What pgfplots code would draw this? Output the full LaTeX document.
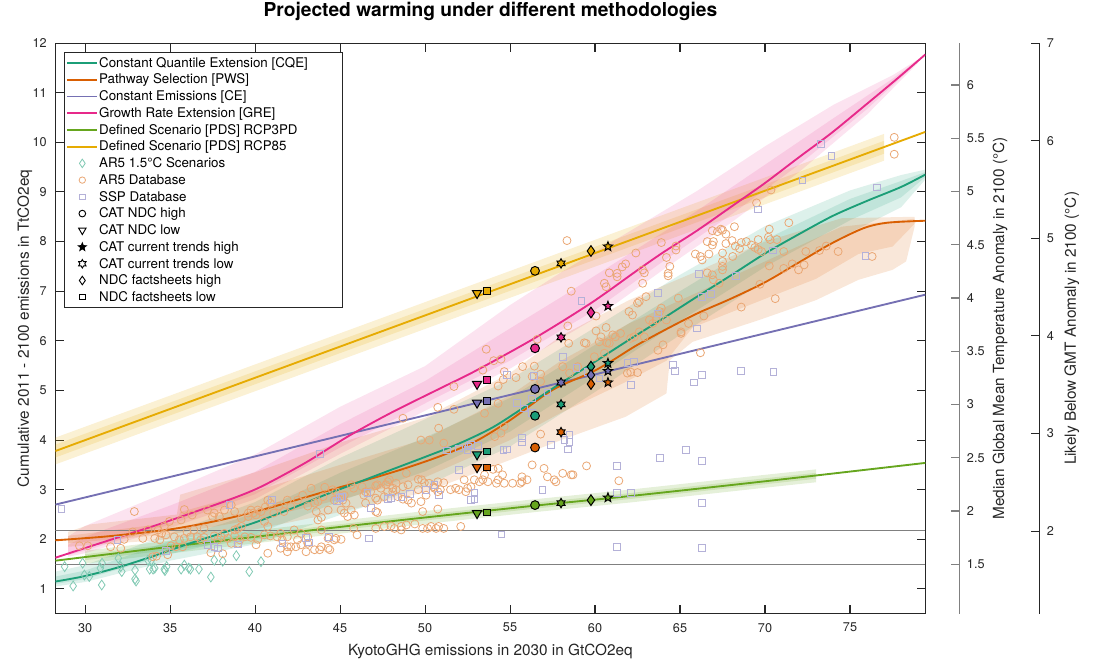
\documentclass[border=0pt]{standalone}
\usepackage{fontspec}
\setmainfont{TeX Gyre Heros}
\usepackage{pgfplots}
\pgfplotsset{compat=1.18}
\usetikzlibrary{plotmarks}

\definecolor{cqe}{HTML}{1B9E77}
\definecolor{pws}{HTML}{D95F02}
\definecolor{ce}{HTML}{7570B3}
\definecolor{gre}{HTML}{E7298A}
\definecolor{rcpl}{HTML}{66A61E}
\definecolor{rcph}{HTML}{E6AB02}
\definecolor{arfive}{HTML}{EAA774}
\definecolor{ssp}{HTML}{B4B1D8}
\definecolor{arlow}{HTML}{82CAB4}
\definecolor{axc}{HTML}{262626}
\definecolor{rax}{HTML}{808080}

\pgfdeclareplotmark{pent}{%
  \pgfpathmoveto{\pgfpointpolar{90}{1*\pgfplotmarksize}}%
  \pgfpathlineto{\pgfpointpolar{126}{0.42*\pgfplotmarksize}}%
  \pgfpathlineto{\pgfpointpolar{162}{1*\pgfplotmarksize}}%
  \pgfpathlineto{\pgfpointpolar{198}{0.42*\pgfplotmarksize}}%
  \pgfpathlineto{\pgfpointpolar{234}{1*\pgfplotmarksize}}%
  \pgfpathlineto{\pgfpointpolar{270}{0.42*\pgfplotmarksize}}%
  \pgfpathlineto{\pgfpointpolar{306}{1*\pgfplotmarksize}}%
  \pgfpathlineto{\pgfpointpolar{342}{0.42*\pgfplotmarksize}}%
  \pgfpathlineto{\pgfpointpolar{18}{1*\pgfplotmarksize}}%
  \pgfpathlineto{\pgfpointpolar{54}{0.42*\pgfplotmarksize}}%
  \pgfpathclose
  \pgfusepathqfillstroke}
\pgfdeclareplotmark{hexa}{%
  \pgfpathmoveto{\pgfpointpolar{90}{1*\pgfplotmarksize}}%
  \pgfpathlineto{\pgfpointpolar{120}{0.577*\pgfplotmarksize}}%
  \pgfpathlineto{\pgfpointpolar{150}{1*\pgfplotmarksize}}%
  \pgfpathlineto{\pgfpointpolar{180}{0.577*\pgfplotmarksize}}%
  \pgfpathlineto{\pgfpointpolar{210}{1*\pgfplotmarksize}}%
  \pgfpathlineto{\pgfpointpolar{240}{0.577*\pgfplotmarksize}}%
  \pgfpathlineto{\pgfpointpolar{270}{1*\pgfplotmarksize}}%
  \pgfpathlineto{\pgfpointpolar{300}{0.577*\pgfplotmarksize}}%
  \pgfpathlineto{\pgfpointpolar{330}{1*\pgfplotmarksize}}%
  \pgfpathlineto{\pgfpointpolar{0}{0.577*\pgfplotmarksize}}%
  \pgfpathlineto{\pgfpointpolar{30}{1*\pgfplotmarksize}}%
  \pgfpathlineto{\pgfpointpolar{60}{0.577*\pgfplotmarksize}}%
  \pgfpathclose
  \pgfusepathqfillstroke}
\pgfdeclareplotmark{vtri}{%
  \pgfpathmoveto{\pgfpointpolar{270}{1*\pgfplotmarksize}}%
  \pgfpathlineto{\pgfpointpolar{30}{1*\pgfplotmarksize}}%
  \pgfpathlineto{\pgfpointpolar{150}{1*\pgfplotmarksize}}%
  \pgfpathclose
  \pgfusepathqfillstroke}
\pgfdeclareplotmark{ndiam}{%
  \pgfpathmoveto{\pgfpoint{0pt}{1*\pgfplotmarksize}}%
  \pgfpathlineto{\pgfpoint{0.7*\pgfplotmarksize}{0pt}}%
  \pgfpathlineto{\pgfpoint{0pt}{-1*\pgfplotmarksize}}%
  \pgfpathlineto{\pgfpoint{-0.7*\pgfplotmarksize}{0pt}}%
  \pgfpathclose
  \pgfusepathqfillstroke}
\pgfdeclareplotmark{ndiamo}{%
  \pgfpathmoveto{\pgfpoint{0pt}{1*\pgfplotmarksize}}%
  \pgfpathlineto{\pgfpoint{0.68*\pgfplotmarksize}{0pt}}%
  \pgfpathlineto{\pgfpoint{0pt}{-1*\pgfplotmarksize}}%
  \pgfpathlineto{\pgfpoint{-0.68*\pgfplotmarksize}{0pt}}%
  \pgfpathclose
  \pgfusepathqstroke}

\pgfplotsset{
  ndc/.style={only marks, forget plot, mark options={draw=black, fill=#1, line width=0.75pt, solid}},
  lgm/.style={only marks, mark options={draw=black, fill=white, line width=0.7pt, solid}},
}

\begin{document}
\begin{tikzpicture}
\begin{axis}[
  scale only axis, width=652.35pt, height=428pt,
  at={(0,0)}, anchor=south west,
  xmin=28.26, xmax=79.43, ymin=0.5, ymax=12,
  xtick={30,35,40,45,50,55,60,65,70,75}, ytick={1,2,3,4,5,6,7,8,9,10,11,12},
  tick align=inside, major tick length=6.5pt,
  axis line style={axc, line width=0.8pt},
  tick style={axc, line width=0.8pt},
  /pgf/number format/assume math mode=true,
  tick label style={font=\fontsize{9.5}{11}\selectfont, text=axc},
  xticklabel style={yshift=-3.5pt},
  yticklabel style={xshift=-3pt},
  label style={font=\fontsize{11.5}{13}\selectfont, text=axc},
  xlabel={KyotoGHG emissions in 2030 in GtCO2eq},
  ylabel={Cumulative 2011 - 2100 emissions in TtCO2eq},
  xlabel style={at={(axis description cs:0.5,-0.0724)}, anchor=base},
  ylabel style={at={(axis description cs:-0.0351,0.5)}, anchor=center},
  title={Projected warming under different methodologies},
  title style={font=\bfseries\fontsize{14.4}{16}\selectfont, at={(axis description cs:0.5,1.0333)}, anchor=base, yshift=0pt},
  legend cell align=left,
  legend style={at={(axis description cs:0.0098,0.984)}, anchor=north west, draw=axc, line width=0.6pt, fill=white,
    font=\fontsize{10}{12}\selectfont, inner xsep=1.5pt, inner ysep=1.5pt, row sep=0pt,
    nodes={inner sep=0.7pt, text height=8.75pt, text depth=2.4pt}},
  legend image code/.code={\draw[mark repeat=2,mark phase=2,#1] plot coordinates {(0pt,0pt)(11.25pt,0pt)(22.5pt,0pt)};},
]

% ---- bands ----
% RCP85
\addplot[draw=none, fill=rcph, fill opacity=0.17, forget plot] coordinates {(28.26,4.05)(77,10.17)(77,9.63)(28.26,3.51)} -- cycle;
\addplot[draw=none, fill=rcph, fill opacity=0.17, forget plot] coordinates {(28.26,3.91)(77,10.03)(77,9.77)(28.26,3.65)} -- cycle;
% RCP3PD
\addplot[draw=none, fill=rcpl, fill opacity=0.17, forget plot] coordinates {(30,1.77)(40,2.18)(50,2.57)(56.5,2.81)(62,3.0)(70,3.3)(73,3.41)(73,3.15)(70,3.04)(62,2.74)(56.5,2.55)(50,2.31)(40,1.92)(30,1.51)} -- cycle;
\addplot[draw=none, fill=rcpl, fill opacity=0.17, forget plot] coordinates {(30,1.70)(40,2.11)(50,2.50)(56.5,2.74)(62,2.93)(70,3.23)(73,3.34)(73,3.22)(70,3.11)(62,2.81)(56.5,2.62)(50,2.38)(40,1.99)(30,1.58)} -- cycle;
% GRE
\addplot[draw=none, fill=gre, fill opacity=0.13, forget plot] coordinates {(29,2.06)(30,2.27)(35,2.98)(40,3.71)(45,4.67)(50,5.49)(55,6.72)(58,7.38)(62,8.2)(66,9.02)(70,9.92)(74,10.75)(77.5,11.35)(79,11.67)
  (79,11.6)(76,10.56)(72,9.4)(68,8.38)(64,7.43)(60,6.45)(55,5.44)(50,4.59)(45,3.72)(40,2.81)(35,2.23)(30,1.72)(29,1.65)} -- cycle;
\addplot[draw=none, fill=gre, fill opacity=0.13, forget plot] coordinates {(29,1.89)(30,2.05)(35,2.68)(40,3.36)(45,4.32)(50,5.19)(55,6.25)(58,6.88)(62,7.75)(66,8.62)(70,9.55)(74,10.48)(77.5,11.28)(79,11.66)
  (79,11.62)(76,10.67)(72,9.55)(68,8.54)(64,7.6)(60,6.62)(55,5.6)(50,4.74)(45,3.85)(40,2.91)(35,2.3)(30,1.77)(29,1.68)} -- cycle;
% CQE
\addplot[draw=none, fill=cqe, fill opacity=0.15, forget plot] coordinates {(28.26,1.35)(30,1.48)(35,2.12)(40,2.75)(45,3.64)(50,4.42)(55,5.22)(60,6.27)(65,7.33)(70,8.31)(75,9.03)(78,9.34)(79.43,9.45)
  (79.43,9.25)(78,8.69)(75,8.18)(70,7.21)(65,6.12)(60,4.97)(55,3.87)(50,3.07)(45,2.49)(40,1.9)(35,1.57)(30,1.14)(28.26,1.05)} -- cycle;
\addplot[draw=none, fill=cqe, fill opacity=0.15, forget plot] coordinates {(28.26,1.25)(30,1.37)(35,1.97)(40,2.53)(45,3.34)(50,4.05)(55,4.85)(60,5.92)(65,7.0)(70,8.04)(75,8.86)(78,9.22)(79.43,9.4)
  (79.43,9.3)(78,8.89)(75,8.43)(70,7.49)(65,6.4)(60,5.27)(55,4.17)(50,3.37)(45,2.77)(40,2.1)(35,1.7)(30,1.2)(28.26,1.1)} -- cycle;
% PWS
\addplot[draw=none, fill=pws, fill opacity=0.15, forget plot] coordinates {(29,2.15)(30.3,2.3)(35.4,2.5)(35.6,2.9)(40,3.35)(45,3.95)(50,4.45)(55,5.35)(58,6.1)(62,6.82)(66,7.4)(70,8.0)(74.5,8.47)(78.8,8.5)
  (78.8,8.3)(78.3,7.6)(77.5,7.43)(75.5,7.23)(73,6.82)(69.66,6.42)(65.74,5.98)(64.4,5.61)(64.2,4.94)(61.8,4.47)(58,4.0)(55,3.6)(50,2.95)(45,2.55)(40,2.2)(35,2.0)(29,1.85)} -- cycle;
\addplot[draw=none, fill=pws, fill opacity=0.15, forget plot] coordinates {(29,2.07)(35.4,2.35)(35.6,2.55)(40,2.97)(45,3.5)(50,4.02)(55,4.9)(58,5.6)(62,6.35)(66,6.97)(70,7.6)(74.5,8.3)(78.8,8.46)
  (78.8,8.36)(77.5,7.9)(75.5,7.75)(73,7.25)(69.66,6.8)(65.74,6.27)(64.2,5.6)(61.8,5.17)(58,4.55)(55,4.0)(50,3.25)(45,2.8)(40,2.4)(35,2.1)(29,1.92)} -- cycle;

% ---- reference lines ----
\addplot[color=rax, line width=0.75pt, forget plot] coordinates {(28.26,1.5)(79.43,1.5)};
\addplot[color=rax, line width=0.75pt, forget plot] coordinates {(28.26,2.168)(79.43,2.168)};

% ---- AR5 1.5C scenarios ----
\addplot[only marks, forget plot, mark=ndiamo, mark size=3.7pt, color=arlow, mark options={line width=0.6pt}] coordinates {
(28.8,1.45)(29.3,1.06)(29.86,1.52)(29.96,1.28)(30.25,1.25)(30.9,1.42)(30.98,1.08)(31.0,1.52)(31.96,1.62)(32.1,1.45)(32.16,1.35)
(32.94,1.38)(32.94,1.2)(33.0,1.16)(33.7,1.58)(33.8,1.4)(33.9,1.58)(34.0,1.4)(34.1,1.42)(34.66,1.4)(34.7,1.37)(34.8,1.45)
(35.65,1.4)(35.84,1.48)(36.1,1.42)(36.2,1.4)(36.7,1.4)(37.4,1.24)(37.6,1.58)(38.1,1.56)(38.9,1.67)(39.66,1.35)(40.35,1.55)};

% ---- AR5 database ----
\addplot[only marks, forget plot, mark=o, mark size=3pt, color=arfive, mark options={line width=0.6pt}] coordinates {
(29.67,1.87)(30.16,1.87)(31.5,1.85)(32.1,1.82)(32.3,2.0)(32.8,2.15)(32.9,2.56)(33.4,2.02)(33.7,2.19)(33.98,1.65)(34.1,2.02)(34.2,1.66)
(34.3,2.19)(34.4,1.99)(34.5,2.12)(34.66,2.26)(34.76,2.09)(34.86,1.69)(34.96,2.36)(35.06,1.87)(35.25,2.05)(35.35,1.85)(35.55,1.99)
(35.65,2.39)(35.74,1.85)(35.84,2.6)(35.84,2.02)(36.0,2.15)(36.2,2.05)(36.3,2.49)(36.4,2.19)(36.6,2.05)(36.8,1.99)(37.0,2.04)(37.0,2.22)
(37.2,2.59)(37.4,1.73)(37.5,2.46)(37.6,2.07)(37.6,2.53)(37.8,1.99)(37.9,2.46)(38.0,2.05)(38.1,1.71)(38.2,2.12)(38.2,2.59)(38.4,2.02)
(38.6,1.92)(38.6,2.69)(38.8,2.19)(38.8,2.56)(38.8,2.07)(39.0,1.92)(39.0,2.22)(39.1,1.99)(39.2,2.26)(39.2,2.42)(39.4,2.05)(39.6,2.46)
(39.6,2.53)(39.76,2.04)(39.76,2.59)(39.9,2.53)(40.06,1.89)(40.06,2.49)(40.16,2.0)(40.16,2.59)(40.35,2.56)(40.55,2.09)(40.55,2.36)
(40.6,2.65)(40.75,1.72)(40.75,2.26)(40.75,2.79)(40.9,2.07)(40.9,2.73)(41.1,2.53)(41.3,2.05)(41.4,2.67)(41.5,2.12)(41.5,1.82)(41.6,1.99)
(41.7,2.56)(41.9,1.85)(41.9,1.75)(41.9,2.05)(41.9,2.79)(42.1,2.66)(42.1,1.85)(42.3,2.19)(42.4,1.85)(42.5,1.99)(42.5,2.79)(42.7,2.12)
(42.7,1.89)(42.8,2.89)(43.0,1.75)(43.1,2.05)(43.1,1.92)(43.1,2.67)(43.3,3.03)(43.5,1.79)(43.5,2.73)(43.6,2.56)(43.7,2.39)(43.7,2.76)
(43.8,1.79)(43.9,2.19)(43.9,2.44)(43.9,1.85)(44.0,2.86)(44.1,3.05)(44.3,1.82)(44.3,2.59)(44.3,2.02)(44.4,1.79)(44.56,3.0)(44.66,1.99)
(44.66,2.79)(44.76,2.96)(44.76,2.02)(45.06,2.0)(45.06,2.86)(45.06,2.59)(45.16,2.79)(45.25,2.53)(45.25,2.89)(45.35,2.73)(45.45,2.46)
(45.65,3.1)(45.65,2.59)(45.8,3.03)(45.8,2.22)(45.84,2.49)(46.0,2.09)(46.3,3.06)(46.4,2.89)(46.5,2.96)(46.5,2.73)(46.8,2.96)
(47.1,2.22)(47.1,2.56)(47.1,2.83)(47.1,3.08)(47.2,3.1)(47.2,2.54)(47.2,2.79)(47.4,3.03)(47.6,2.26)(47.6,2.86)(47.7,3.1)
(47.8,3.16)(47.8,2.96)(47.9,3.2)(48.0,2.27)(48.1,2.96)(48.1,3.03)(48.2,2.22)(48.3,3.0)(48.3,3.13)(48.4,2.86)(48.6,2.19)
(48.6,2.26)(48.7,2.81)(48.7,3.06)(48.9,2.29)(48.9,3.33)(49.0,2.79)(49.0,3.1)(49.2,2.73)(49.4,2.31)(49.6,3.0)(49.6,3.21)(49.76,2.76)
(49.8,3.2)(49.86,2.22)(49.86,2.56)(49.96,3.14)(50.06,2.89)(50.15,2.22)(50.25,3.13)(50.35,2.26)(50.5,3.06)(50.55,3.03)(50.65,2.22)
(50.75,3.16)(50.75,2.96)(50.75,2.61)(50.8,2.26)(50.9,3.0)(51.1,3.14)(51.1,2.22)(51.5,3.0)(51.8,3.03)(52.0,3.0)(52.1,2.26)(52.3,3.2)
(52.4,2.96)(52.5,3.03)(52.7,3.06)(52.9,3.2)(53.2,3.16)(53.4,3.2)(53.5,3.3)(53.7,3.16)(54.0,3.41)(54.2,3.13)(54.3,3.2)(54.3,3.43)
(54.56,3.3)(54.66,3.13)(55.15,3.13)(55.6,3.13)(55.7,3.16)(55.7,3.26)(56.0,3.2)(56.3,3.5)(57.0,3.43)(57.2,3.26)(57.6,3.2)(57.7,3.16)
(58.1,3.33)(58.6,3.3)(58.7,3.3)(59.5,3.48)(61.4,3.18)
(48.7,4.44)(49.76,4.0)(50.25,4.0)(50.75,4.66)(50.8,4.24)(51.1,3.94)(51.7,4.62)(51.7,5.08)(53.4,5.41)(53.5,4.54)(53.6,5.83)(54.04,5.6)
(54.1,4.07)(54.3,4.74)(54.3,5.09)(54.47,5.63)(54.47,4.14)(54.6,5.22)(54.66,5.38)(54.66,4.27)(55.35,5.26)(55.74,5.48)(56.3,5.28)
(56.43,5.49)(56.6,6.03)(56.8,5.33)(56.8,5.18)(56.8,4.12)(58.1,5.48)(58.35,8.02)(58.4,6.3)(58.45,5.95)(58.5,5.35)(58.6,7.0)(58.98,5.48)
(59.37,5.96)(59.47,5.95)(59.96,5.68)(60.06,6.2)(60.06,6.5)(60.25,5.98)(60.35,6.08)(60.55,5.75)(60.55,7.16)(60.65,7.09)(60.65,6.27)
(60.7,5.96)(60.84,7.37)(60.84,5.95)(61.04,6.12)(61.2,6.08)(61.3,7.36)(61.3,7.29)(61.5,6.15)(61.6,7.49)(61.8,7.55)(61.9,5.35)
(62.0,6.59)(62.1,6.05)(62.1,5.37)(62.2,6.52)(62.3,6.08)(62.4,7.77)(62.5,5.36)(62.5,6.76)(62.6,6.79)(62.6,6.18)(62.8,7.43)(62.8,7.16)
(62.9,7.37)(62.9,6.08)(63.0,6.89)(63.2,6.42)(63.4,6.35)(63.6,6.42)(63.7,5.81)(63.8,6.59)(63.9,6.66)(63.9,7.98)(64.0,5.92)(64.2,7.68)
(64.2,6.42)(64.3,7.36)(64.3,7.31)(64.4,7.5)(64.76,7.91)(64.76,7.83)(64.9,6.86)(65.06,6.18)(65.06,6.15)(65.5,6.35)(65.9,7.75)(66.2,7.7)
(66.2,5.76)(66.3,7.63)(66.4,6.5)(66.6,8.0)(66.6,7.37)(66.7,7.75)(66.9,8.22)(66.9,7.33)(66.9,7.93)(66.96,8.0)(66.96,7.23)(67.2,8.2)
(67.3,7.16)(67.4,8.25)(67.5,8.23)(67.5,7.6)(67.5,7.5)(67.5,7.43)(67.5,7.77)(67.7,8.15)(67.7,7.96)(68.06,8.02)(68.1,7.7)(68.2,8.3)
(68.25,7.91)(68.5,7.86)(68.6,7.98)(68.6,6.68)(68.9,8.0)(69.2,7.93)(69.4,7.88)(69.5,8.78)(69.6,7.84)(69.6,8.04)(69.7,7.14)(69.8,7.8)
(70.2,8.09)(70.25,8.25)(70.25,7.51)(70.3,8.04)(70.35,9.04)(70.6,6.85)(70.7,8.04)(71.1,7.46)(71.1,7.8)(71.4,8.38)(71.6,7.55)
(71.97,7.43)(72.3,7.53)(72.4,7.8)(73.2,7.82)(73.6,7.91)(74.3,7.8)(76.3,7.7)(77.6,10.1)(77.6,9.76)};

% ---- SSP database ----
\addplot[only marks, forget plot, mark=square, mark size=2.5pt, color=ssp, mark options={line width=0.6pt}] coordinates {
(28.6,2.62)(31.9,1.99)(34.76,1.77)(37.2,1.89)(37.6,1.85)(37.8,1.82)(38.5,2.69)(39.0,1.9)(41.0,2.79)(41.6,1.92)(43.0,2.03)(43.15,1.94)
(43.8,3.72)(44.35,2.05)(44.8,2.78)(45.0,2.84)(45.1,2.86)(46.6,2.94)(46.7,2.02)(46.8,2.63)(47.8,2.82)(48.0,2.83)(48.6,2.86)(49.1,2.91)
(50.06,3.0)(50.55,3.1)(50.8,2.9)(51.3,3.79)(52.0,3.83)(52.0,3.4)(52.5,3.8)(52.55,3.87)(52.7,3.9)(52.7,2.79)(52.9,2.93)(52.9,2.81)
(53.1,3.88)(54.5,2.1)(54.6,3.8)(54.8,3.81)(54.8,5.31)(55.4,4.75)(55.7,4.04)(55.7,3.95)(55.8,4.64)(56.3,4.84)(56.3,4.55)(56.4,5.29)
(56.9,3.0)(57.2,4.96)(57.4,3.9)(58.1,5.68)(58.2,4.0)(58.4,3.81)(58.5,4.1)(58.5,3.97)(58.9,5.45)(59.2,6.8)(59.6,5.38)(60.25,5.24)
(61.3,3.48)(61.3,2.93)(61.3,1.85)(61.9,5.55)(62.1,5.11)(62.1,2.93)(62.3,5.58)(63.7,6.55)(63.7,6.97)(63.8,3.64)(64.6,5.51)(64.7,5.4)
(65.35,3.8)(65.8,5.16)(66.0,6.25)(66.1,7.35)(66.3,5.31)(66.3,3.58)(66.3,2.74)(66.3,1.83)(66.3,6.89)(66.8,6.94)(68.3,7.31)(68.6,5.39)
(69.6,8.65)(70.45,7.82)(70.5,5.38)(72.2,9.23)(73.3,9.97)(73.9,9.72)(75.9,7.71)(76.6,9.09)};

% ---- method lines ----
\addplot[color=rcph, line width=1.4pt, forget plot] coordinates {(28.26,3.78)(79.43,10.21)};
\addplot[color=rcpl, line width=1.4pt, forget plot, smooth] coordinates {(28.26,1.57)(35,1.85)(40,2.05)(45,2.25)(50,2.44)(56.5,2.68)(62,2.87)(70,3.17)(79.43,3.54)};
\addplot[color=ce, line width=1.4pt, forget plot] coordinates {(28.26,2.70)(79.43,6.93)};
\addplot[color=gre, line width=1.4pt, forget plot, smooth] coordinates {(28.26,1.63)(30.5,1.88)(32.5,2.1)(34.5,2.32)(36.43,2.55)(38.5,2.8)(40.35,3.06)(43,3.55)(45.5,4.08)(48,4.55)(50.94,5.05)(53,5.4)(56.43,6.05)(59.76,6.76)(62.4,7.4)(64,7.78)(66.04,8.23)(68,8.7)(69.96,9.17)(72,9.7)(73.88,10.18)(75.8,10.72)(77.8,11.29)(79.43,11.77)};
\addplot[color=pws, line width=1.4pt, forget plot, smooth] coordinates {(28.26,1.98)(31,2.05)(33,2.12)(35,2.2)(37,2.32)(39,2.47)(41,2.65)(43,2.85)(45,3.05)(47,3.24)(49,3.45)(51,3.69)(53,3.98)(55,4.4)(57,4.9)(58,5.1)(59.76,5.36)(61,5.6)(62.4,5.9)(64,6.2)(66,6.55)(68,6.85)(70,7.18)(71.9,7.56)(73.9,7.96)(75.8,8.27)(77.2,8.38)(79.43,8.42)};
\addplot[color=cqe, line width=1.4pt, forget plot, smooth] coordinates {(28.26,1.15)(30,1.26)(32,1.44)(34,1.66)(36,1.9)(38,2.12)(40,2.34)(42,2.6)(44,2.88)(46,3.14)(48,3.4)(50,3.66)(52,3.93)(54,4.26)(56,4.7)(58,5.15)(60,5.58)(62,6.02)(64,6.45)(66,6.89)(68,7.32)(70,7.76)(72,8.15)(74,8.52)(76,8.82)(78,9.1)(79.43,9.35)};

% ---- NDC / CAT markers ----
% RCP85
\addplot[ndc=rcph, mark=vtri, mark size=4pt] coordinates {(53.06,6.96)};
\addplot[ndc=rcph, mark=square*, mark size=2.5pt] coordinates {(53.65,7.01)};
\addplot[ndc=rcph, mark=*, mark size=3.3pt] coordinates {(56.47,7.41)};
\addplot[ndc=rcph, mark=hexa, mark size=3.5pt] coordinates {(58.0,7.56)};
\addplot[ndc=rcph, mark=ndiam, mark size=4pt] coordinates {(59.76,7.81)};
\addplot[ndc=rcph, mark=pent, mark size=3.6pt] coordinates {(60.76,7.90)};
% GRE
\addplot[ndc=gre, mark=vtri, mark size=4pt] coordinates {(53.06,5.13)};
\addplot[ndc=gre, mark=square*, mark size=2.5pt] coordinates {(53.65,5.21)};
\addplot[ndc=gre, mark=*, mark size=3.3pt] coordinates {(56.47,5.85)};
\addplot[ndc=gre, mark=hexa, mark size=3.5pt] coordinates {(58.0,6.07)};
\addplot[ndc=gre, mark=ndiam, mark size=4pt] coordinates {(59.76,6.57)};
\addplot[ndc=gre, mark=pent, mark size=3.6pt] coordinates {(60.76,6.70)};
% CQE
\addplot[ndc=cqe, mark=vtri, mark size=4pt] coordinates {(53.06,3.71)};
\addplot[ndc=cqe, mark=square*, mark size=2.5pt] coordinates {(53.65,3.77)};
\addplot[ndc=cqe, mark=*, mark size=3.3pt] coordinates {(56.47,4.49)};
\addplot[ndc=cqe, mark=hexa, mark size=3.5pt] coordinates {(58.0,4.72)};
\addplot[ndc=cqe, mark=ndiam, mark size=4pt] coordinates {(59.76,5.48)};
\addplot[ndc=cqe, mark=pent, mark size=3.6pt] coordinates {(60.76,5.55)};
% CE
\addplot[ndc=ce, mark=vtri, mark size=4pt] coordinates {(53.06,4.75)};
\addplot[ndc=ce, mark=square*, mark size=2.5pt] coordinates {(53.65,4.79)};
\addplot[ndc=ce, mark=*, mark size=3.3pt] coordinates {(56.47,5.03)};
\addplot[ndc=ce, mark=hexa, mark size=3.5pt] coordinates {(58.0,5.16)};
\addplot[ndc=ce, mark=ndiam, mark size=4pt] coordinates {(59.76,5.31)};
\addplot[ndc=ce, mark=pent, mark size=3.6pt] coordinates {(60.76,5.39)};
% PWS
\addplot[ndc=pws, mark=vtri, mark size=4pt] coordinates {(53.06,3.45)};
\addplot[ndc=pws, mark=square*, mark size=2.5pt] coordinates {(53.65,3.45)};
\addplot[ndc=pws, mark=*, mark size=3.3pt] coordinates {(56.47,3.85)};
\addplot[ndc=pws, mark=hexa, mark size=3.5pt] coordinates {(58.0,4.16)};
\addplot[ndc=pws, mark=ndiam, mark size=4pt] coordinates {(59.76,5.13)};
\addplot[ndc=pws, mark=pent, mark size=3.6pt] coordinates {(60.76,5.16)};
% RCP3PD
\addplot[ndc=rcpl, mark=vtri, mark size=4pt] coordinates {(53.06,2.525)};
\addplot[ndc=rcpl, mark=square*, mark size=2.5pt] coordinates {(53.65,2.54)};
\addplot[ndc=rcpl, mark=*, mark size=3.3pt] coordinates {(56.47,2.69)};
\addplot[ndc=rcpl, mark=hexa, mark size=3.5pt] coordinates {(58.0,2.73)};
\addplot[ndc=rcpl, mark=ndiam, mark size=4pt] coordinates {(59.76,2.79)};
\addplot[ndc=rcpl, mark=pent, mark size=3.6pt] coordinates {(60.76,2.84)};

% ---- legend ----
\addlegendimage{color=cqe, line width=1.4pt}
\addlegendentry{Constant Quantile Extension [CQE]\hspace*{24pt}}
\addlegendimage{color=pws, line width=1.4pt}
\addlegendentry{Pathway Selection [PWS]}
\addlegendimage{color=ce, line width=1.4pt}
\addlegendentry{Constant Emissions [CE]}
\addlegendimage{color=gre, line width=1.4pt}
\addlegendentry{Growth Rate Extension [GRE]}
\addlegendimage{color=rcpl, line width=1.4pt}
\addlegendentry{Defined Scenario [PDS] RCP3PD}
\addlegendimage{color=rcph, line width=1.4pt}
\addlegendentry{Defined Scenario [PDS] RCP85}
\addlegendimage{only marks, mark=ndiamo, mark size=3.2pt, color=arlow, mark options={line width=0.6pt}}
\addlegendentry{AR5 1.5°C Scenarios}
\addlegendimage{only marks, mark=o, mark size=2.4pt, color=arfive, mark options={line width=0.6pt}}
\addlegendentry{AR5 Database}
\addlegendimage{only marks, mark=square, mark size=2pt, color=ssp, mark options={line width=0.6pt}}
\addlegendentry{SSP Database}
\addlegendimage{lgm, mark=*, mark size=2.5pt}
\addlegendentry{CAT NDC high}
\addlegendimage{lgm, mark=vtri, mark size=3.2pt}
\addlegendentry{CAT NDC low}
\addlegendimage{only marks, mark=pent, mark size=3.2pt, mark options={draw=black, fill=black, line width=0.6pt}}
\addlegendentry{CAT current trends high}
\addlegendimage{lgm, mark=hexa, mark size=3.2pt}
\addlegendentry{CAT current trends low}
\addlegendimage{lgm, mark=ndiam, mark size=3.2pt}
\addlegendentry{NDC factsheets high}
\addlegendimage{lgm, mark=square*, mark size=2pt}
\addlegendentry{NDC factsheets low}
\end{axis}

% ---- median temperature axis ----
\begin{axis}[
  scale only axis, width=677.85pt, height=428pt, at={(0,0)}, anchor=south west,
  hide x axis, axis y line*=right, xmin=0, xmax=1,
  ymin=1.035, ymax=6.394,
  ytick={1.5,2,2.5,3,3.5,4,4.5,5,5.5,6},
  tick align=inside, major tick length=6.5pt,
  axis line style={rax, line width=0.8pt},
  tick style={rax, line width=0.8pt},
  /pgf/number format/assume math mode=true,
  tick label style={font=\fontsize{9.5}{11}\selectfont, text=axc},
  yticklabel style={xshift=2.2pt},
  ylabel={Median Global Mean Temperature Anomaly in 2100 (°C)},
  ylabel style={font=\fontsize{11.5}{13}\selectfont, text=axc, at={(axis description cs:1.045,0.5)}, anchor=center},
]
\end{axis}

% ---- likely below axis ----
\begin{axis}[
  scale only axis, width=737.85pt, height=428pt, at={(0,0)}, anchor=south west,
  hide x axis, axis y line*=right, xmin=0, xmax=1,
  ymin=1.153, ymax=7.0,
  ytick={2,3,4,5,6,7},
  tick align=inside, major tick length=6.5pt,
  axis line style={axc, line width=0.8pt},
  tick style={axc, line width=0.8pt},
  /pgf/number format/assume math mode=true,
  tick label style={font=\fontsize{9.5}{11}\selectfont, text=axc},
  yticklabel style={xshift=2.2pt},
  ylabel={Likely Below GMT Anomaly in 2100 (°C)},
  ylabel style={font=\fontsize{11.5}{13}\selectfont, text=axc, at={(axis description cs:1.033,0.5)}, anchor=center},
]
\end{axis}

\pgfresetboundingbox
\path (-41.6pt,-36.2pt) rectangle (778.1pt,460.3pt);
\end{tikzpicture}
\end{document}
